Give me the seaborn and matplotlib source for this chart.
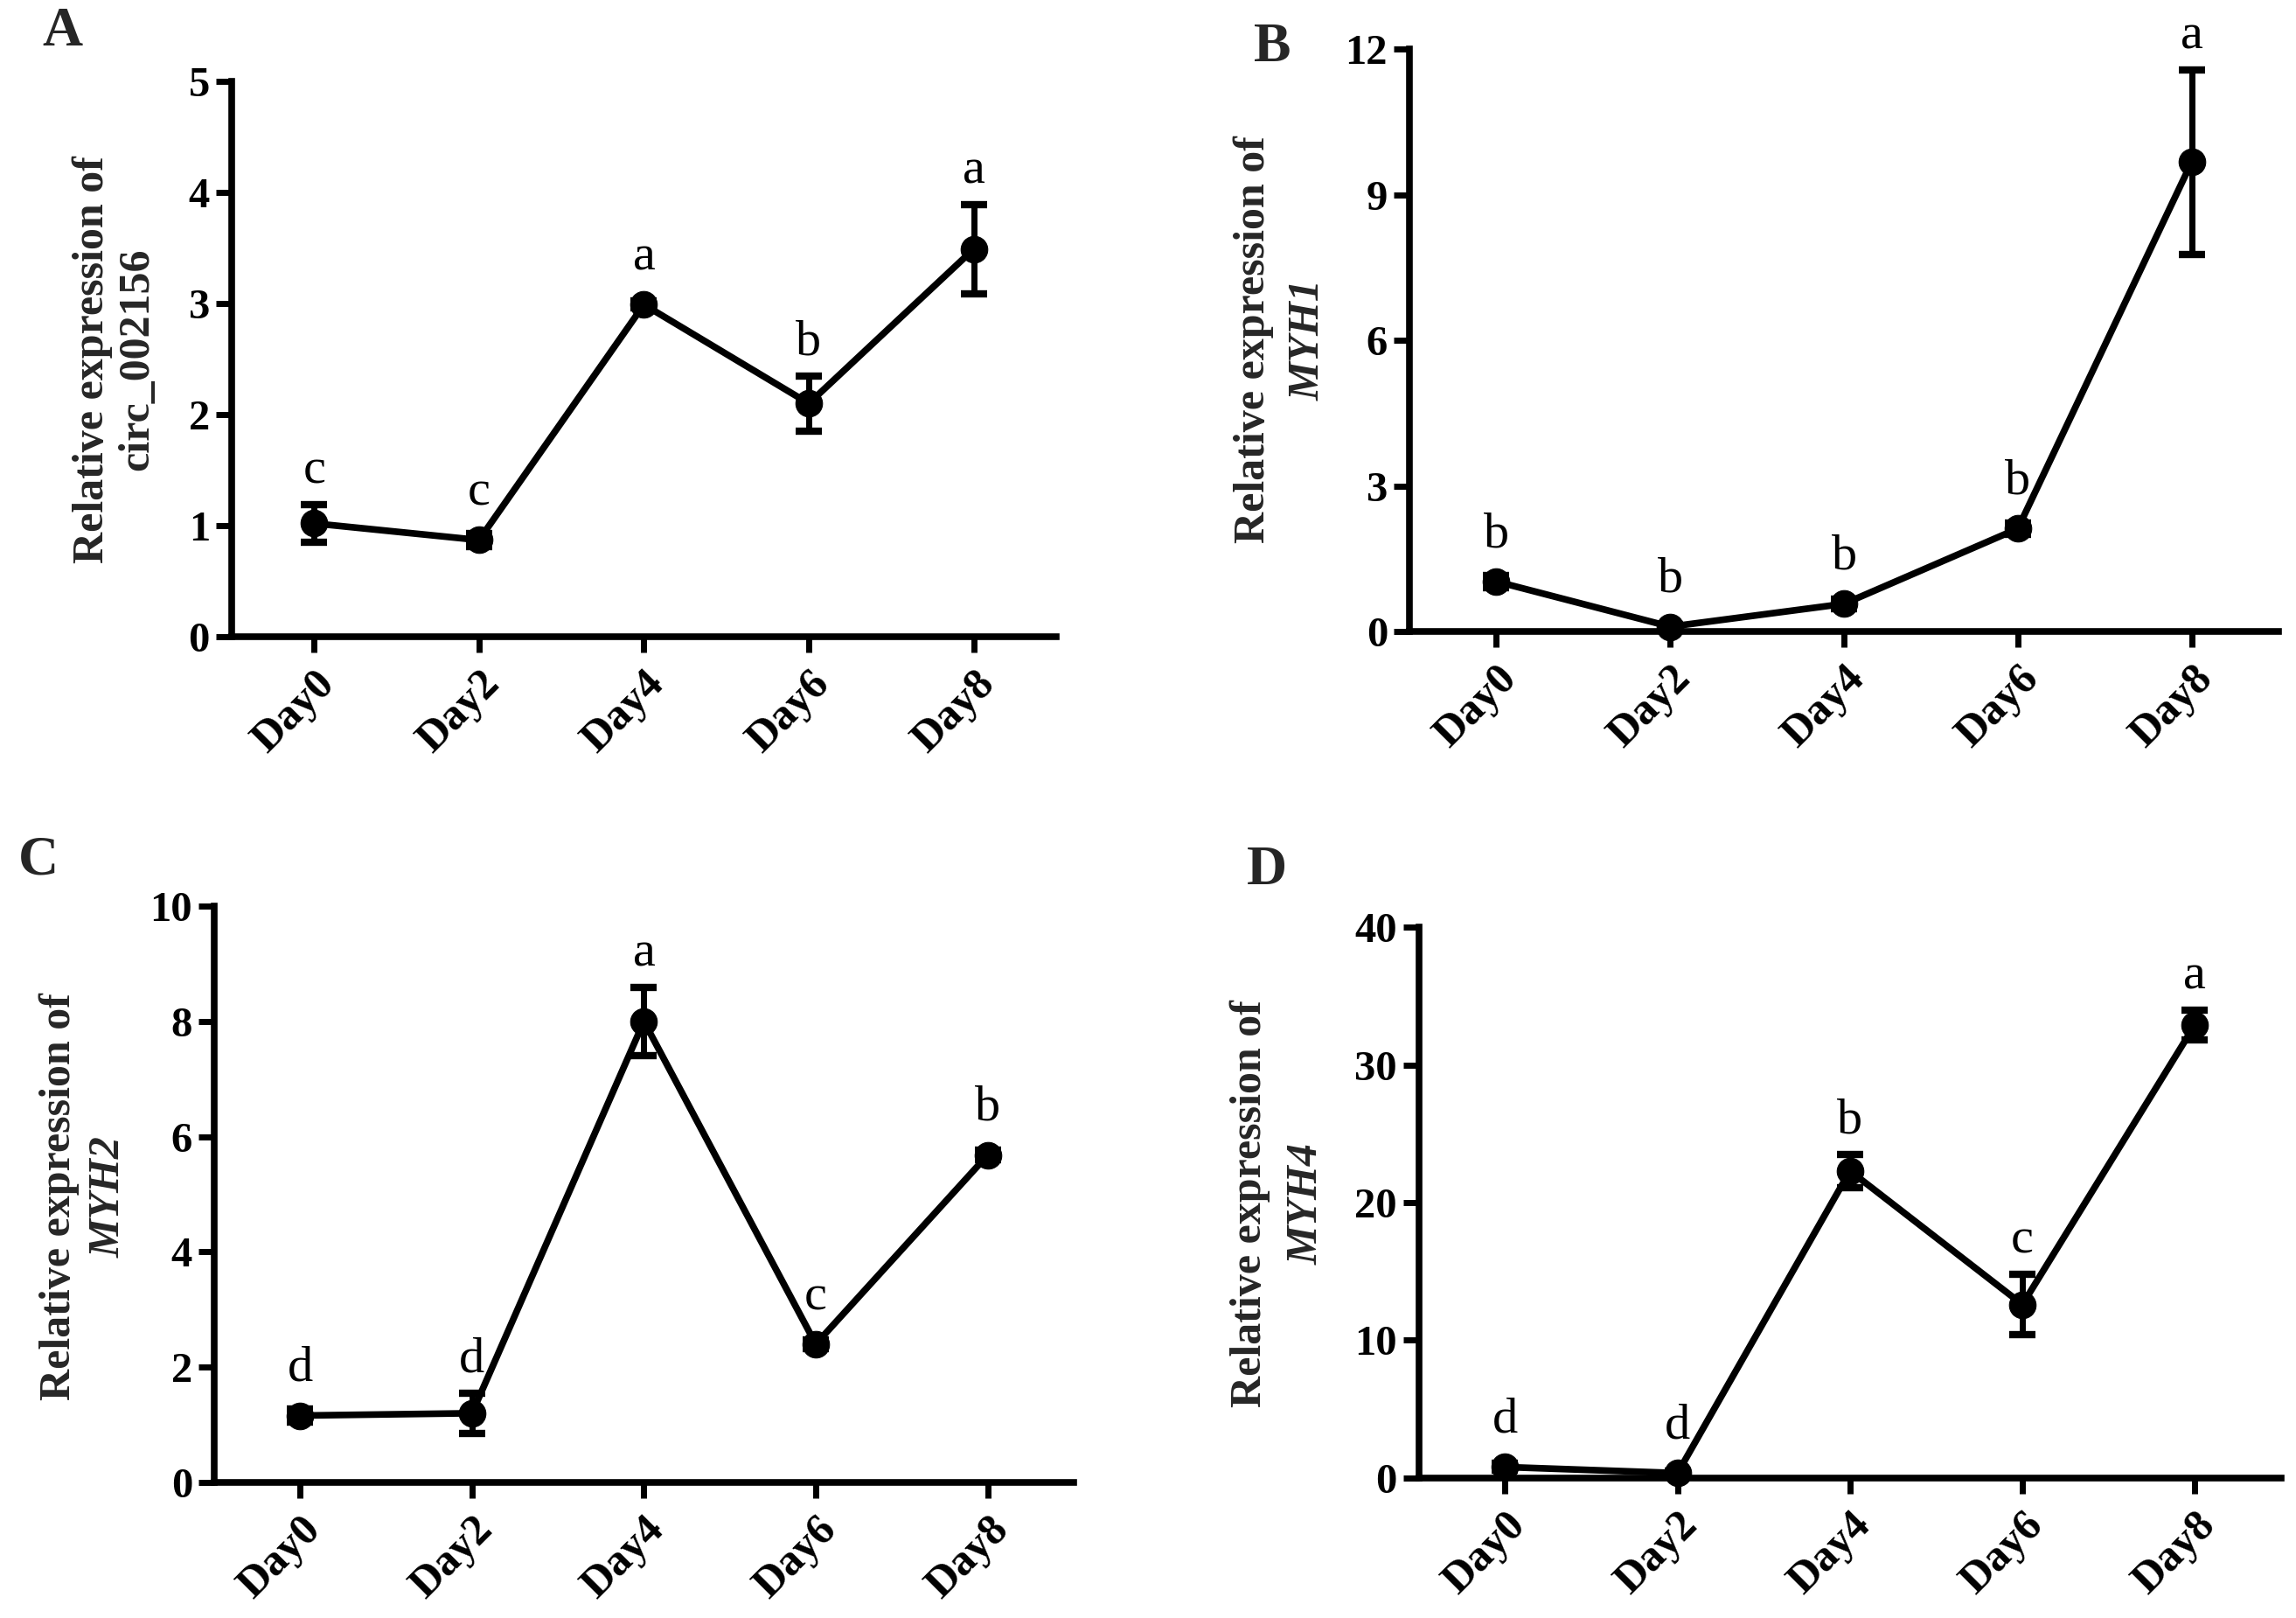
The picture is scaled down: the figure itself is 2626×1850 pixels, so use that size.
import numpy as np
import matplotlib
matplotlib.use("Agg")
import matplotlib.pyplot as plt
import seaborn as sns

days = ["Day0", "Day2", "Day4", "Day6", "Day8"]

circ_mean = [1.02, 0.87, 2.99, 2.10, 3.49]
circ_sd = [0.17, 0.06, 0.03, 0.25, 0.40]
circ_letters = ["c", "c", "a", "b", "a"]

myh1_mean = [1.03, 0.10, 0.57, 2.12, 9.67]
myh1_sd = [0.12, 0.05, 0.10, 0.12, 1.90]
myh1_letters = ["b", "b", "b", "b", "a"]

myh2_mean = [1.16, 1.20, 8.00, 2.40, 5.68]
myh2_sd = [0.12, 0.35, 0.59, 0.08, 0.08]
myh2_letters = ["d", "d", "a", "c", "b"]

myh4_mean = [0.80, 0.36, 22.3, 12.6, 32.9]
myh4_sd = [0.25, 0.15, 1.2, 2.2, 1.1]
myh4_letters = ["d", "d", "b", "c", "a"]

sns.set_theme(style="ticks")
plt.rcParams["font.family"] = ["Liberation Serif", "DejaVu Serif"]

fig = plt.figure(figsize=(26.26, 18.5), dpi=100)

panels = [
    # tag, mean, sd, letters, ticks, gene, italic, axes rect, label x's, label y, tag pos
    ("A", circ_mean, circ_sd, circ_letters, [0, 1, 2, 3, 4, 5], "circ_002156", False,
     [0.1009, 0.6065, 0.3591, 0.3432], (0.0404, 0.0598), 0.778, (0.0183, 0.9719)),
    ("B", myh1_mean, myh1_sd, myh1_letters, [0, 3, 6, 9, 12], "MYH1", True,
     [0.6139, 0.6097, 0.3785, 0.360], (0.546, 0.570), 0.790, (0.546, 0.962)),
    ("C", myh2_mean, myh2_sd, myh2_letters, [0, 2, 4, 6, 8, 10], "MYH2", True,
     [0.0933, 0.0838, 0.3743, 0.3562], (0.0259, 0.0476), 0.2605, (0.008, 0.460)),
    ("D", myh4_mean, myh4_sd, myh4_letters, [0, 10, 20, 30, 40], "MYH4", True,
     [0.6180, 0.0865, 0.3755, 0.3405], (0.5445, 0.5693), 0.256, (0.543, 0.4535)),
]

xpos = np.arange(len(days))
marker_r_pt = 11
gap_pt = 9

for tag, mean, sd, letters, yticks, gene, italic, rect, lab_x, lab_y, tag_pos in panels:
    ax = fig.add_axes(rect)
    sns.lineplot(x=xpos, y=mean, ax=ax, color="black", linewidth=5.5,
                 marker="o", markersize=22, markeredgecolor="black",
                 markerfacecolor="black", clip_on=False, zorder=3)
    ax.errorbar(xpos, mean, yerr=sd, fmt="none", ecolor="black",
                elinewidth=5, capsize=10.5, capthick=6, clip_on=False, zorder=4)

    ax.set_xlim(-0.5, 4.5)
    ax.set_ylim(yticks[0], yticks[-1])
    ax.set_yticks(yticks)
    ax.set_xticks(xpos)
    ax.set_xticklabels(days, rotation=45, ha="right", rotation_mode="anchor",
                       fontsize=36, fontweight="bold")
    ax.set_yticklabels([str(t) for t in yticks], fontsize=35, fontweight="bold")
    ax.tick_params(axis="y", length=13, width=5, pad=5, colors="black")
    ax.tick_params(axis="x", length=13, width=5, pad=9, colors="black")
    sns.despine(ax=ax)
    for side in ["left", "bottom"]:
        ax.spines[side].set_linewidth(5.5)
        ax.spines[side].set_color("black")
    ax.set_xlabel("")
    ax.set_ylabel("")

    # significance letters above each point
    trans = ax.transData
    for i, (m, s, let) in enumerate(zip(mean, sd, letters)):
        err_px = trans.transform((i, m + s))[1] - trans.transform((i, m))[1]
        err_pt = err_px * 72 / fig.dpi
        off = gap_pt + max(0, marker_r_pt - err_pt)
        ax.annotate(let, xy=(i, m + s), xytext=(0, off), textcoords="offset points",
                    ha="center", va="bottom", fontsize=42, color="black",
                    annotation_clip=False)

    fig.text(lab_x[0], lab_y, "Relative expression of", rotation=90,
             ha="center", va="center", fontsize=36, fontweight="bold")
    fig.text(lab_x[1], lab_y, gene, rotation=90, ha="center", va="center",
             fontsize=36, fontweight="bold",
             fontstyle="italic" if italic else "normal")
    fig.text(tag_pos[0], tag_pos[1], tag, ha="left", va="baseline",
             fontsize=46, fontweight="bold")

fig.savefig("out.png", dpi=100, facecolor="white")
